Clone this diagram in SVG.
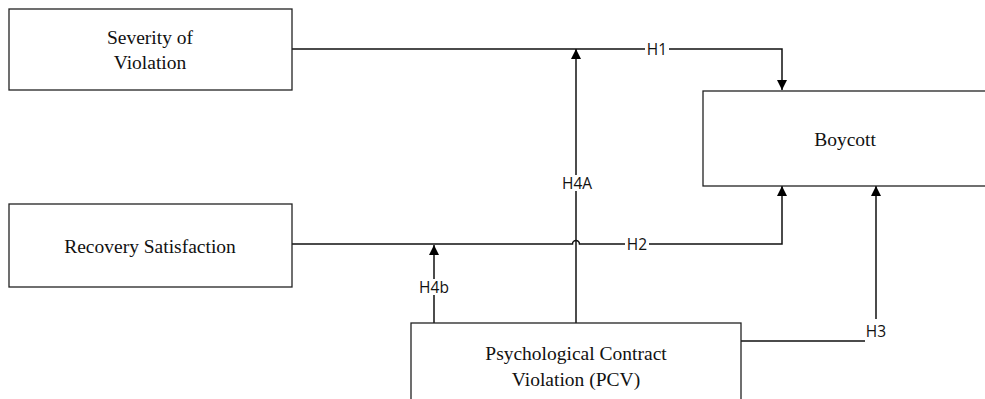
<svg xmlns="http://www.w3.org/2000/svg" width="985" height="399" viewBox="0 0 985 399">
<defs>
<marker id="ah" viewBox="0 0 10 10" refX="10" refY="5" markerWidth="10" markerHeight="10" markerUnits="userSpaceOnUse" orient="auto">
<path d="M0,0 L10,5 L0,10 z" fill="#000"/>
</marker>
<style>
.box{fill:#fff;stroke:#222;stroke-width:1.3}
.nt{font-family:"Liberation Serif","Times New Roman",serif;font-size:19.5px;fill:#111;text-anchor:middle}
.ln{fill:none;stroke:#111;stroke-width:1.5}
.lb{font-family:"Open Sans","Liberation Sans",sans-serif;font-size:15.5px;fill:#111;text-anchor:middle;dominant-baseline:central}
.lbg{fill:#fff}
</style>
</defs>
<rect width="985" height="399" fill="#fff"/>
<g id="connectors">
<path class="ln" d="M292,49 H782 V90" marker-end="url(#ah)"/>
<path class="ln" d="M292,244 H572.5 A3.5,3.5 0 0 1 579.5,244 H782 V186" marker-end="url(#ah)"/>
<path class="ln" d="M576,323 V49" marker-end="url(#ah)"/>
<path class="ln" d="M434,323 V245" marker-end="url(#ah)"/>
<path class="ln" d="M741,341 H876 V186" marker-end="url(#ah)"/>
<rect class="lbg" x="645" y="41" width="24" height="16"/>
<text class="lb" x="657" y="49">H1</text>
<rect class="lbg" x="625" y="236" width="24" height="16"/>
<text class="lb" x="637" y="244">H2</text>
<rect class="lbg" x="561" y="175" width="32" height="16"/>
<text class="lb" x="577" y="183">H4A</text>
<rect class="lbg" x="419" y="279" width="30" height="16"/>
<text class="lb" x="434" y="287">H4b</text>
<rect class="lbg" x="865" y="319" width="23" height="24"/>
<text class="lb" x="876" y="331">H3</text>
</g>
<g id="severity">
<rect class="box" x="9" y="9" width="283" height="81"/>
<text class="nt" x="150" y="44">Severity of</text>
<text class="nt" x="150" y="69">Violation</text>
</g>
<g id="recovery">
<rect class="box" x="9" y="204" width="283" height="83"/>
<text class="nt" x="150" y="253">Recovery Satisfaction</text>
</g>
<g id="boycott">
<rect class="box" x="703" y="91" width="290" height="95"/>
<text class="nt" x="845" y="146">Boycott</text>
</g>
<g id="pcv">
<rect class="box" x="411" y="323" width="330" height="90"/>
<text class="nt" x="576" y="360">Psychological Contract</text>
<text class="nt" x="576" y="386">Violation (PCV)</text>
</g>
</svg>
